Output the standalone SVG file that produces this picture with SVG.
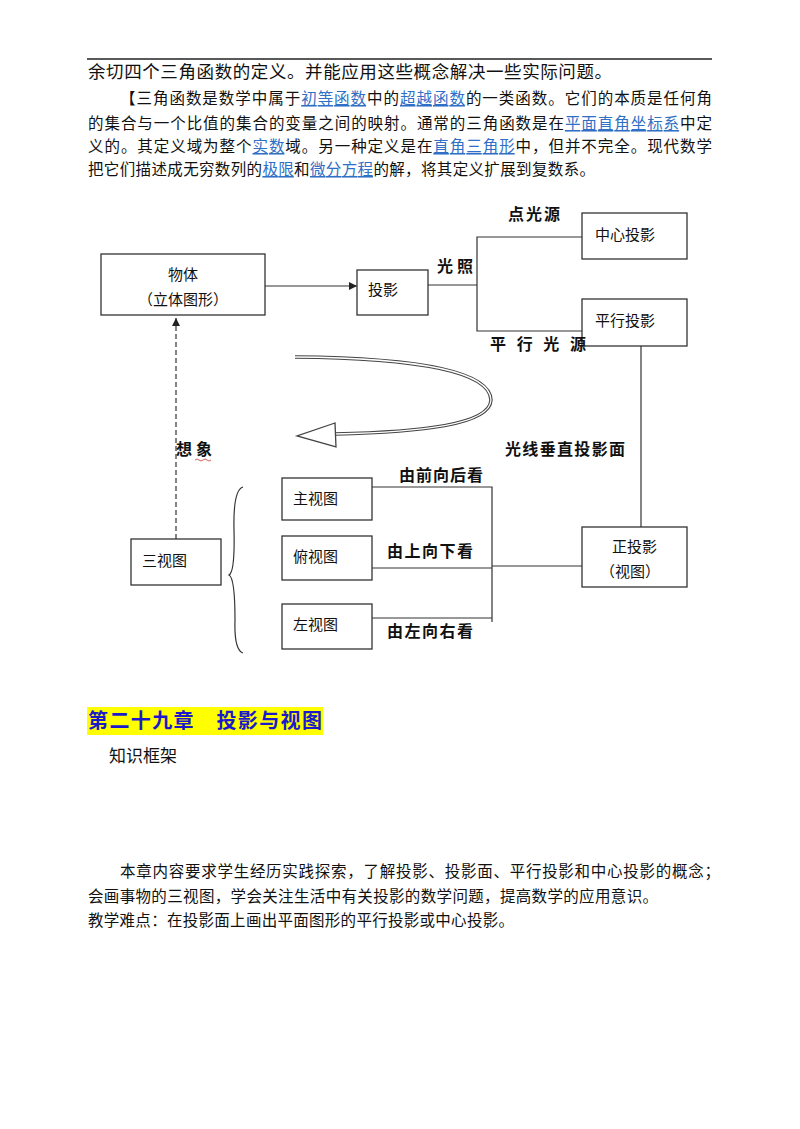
<svg xmlns="http://www.w3.org/2000/svg" width="800" height="1129" viewBox="0 0 800 1129">
<style>
text{font-family:"Liberation Sans","Noto Sans CJK SC",sans-serif;fill:#111}
.p{font-size:15.5px}
.a{fill:#2f6fc6;text-decoration:underline}
.b{fill:#fff;stroke:#333;stroke-width:1.3}
.l{fill:none;stroke:#333;stroke-width:1.2}
.n{font-size:15px}
.k{font-size:16px;font-weight:bold;font-family:"Liberation Serif","Noto Sans CJK SC",serif}
</style>
<defs>
<marker id="ar" viewBox="0 0 10 10" refX="10" refY="5" markerWidth="8" markerHeight="8" orient="auto" markerUnits="userSpaceOnUse"><path d="M0,0L10,5L0,10z" fill="#222"/></marker>
</defs>
<rect width="800" height="1129" fill="#fff"/>
<line x1="87" y1="59" x2="712" y2="59" stroke="#222" stroke-width="1.5"/>
<text x="88" y="78" font-size="17.5" textLength="524" lengthAdjust="spacing">余切四个三角函数的定义。并能应用这些概念解决一些实际问题。</text>
<text class="p" x="120" y="104" textLength="592" lengthAdjust="spacing">【三角函数是数学中属于<tspan class="a">初等函数</tspan>中的<tspan class="a">超越函数</tspan>的一类函数。它们的本质是任何角</text>
<text class="p" x="88" y="129" textLength="624" lengthAdjust="spacing">的集合与一个比值的集合的变量之间的映射。通常的三角函数是在<tspan class="a">平面直角坐标系</tspan>中定</text>
<text class="p" x="88" y="152" textLength="624" lengthAdjust="spacing">义的。其定义域为整个<tspan class="a">实数</tspan>域。另一种定义是在<tspan class="a">直角三角形</tspan>中，但并不完全。现代数学</text>
<text class="p" x="88" y="175" textLength="507" lengthAdjust="spacing">把它们描述成无穷数列的<tspan class="a">极限</tspan>和<tspan class="a">微分方程</tspan>的解，将其定义扩展到复数系。</text>

<g id="connectors">
<line class="l" x1="265" y1="286" x2="357" y2="286" marker-end="url(#ar)"/>
<polyline class="l" points="428,285 477,285"/>
<polyline class="l" points="582,237 477,237 477,331 582,331"/>
<line class="l" x1="641" y1="346" x2="641" y2="527"/>
<line class="l" x1="176" y1="539" x2="176" y2="318" stroke-dasharray="5,3" marker-end="url(#ar)"/>
<polyline class="l" points="372,487 492,487 492,622"/>
<polyline class="l" points="372,568 492,568"/>
<polyline class="l" points="372,618 492,618"/>
<polyline class="l" points="492,566 582,566"/>
<path class="l" d="M243,487 Q233,490 234,530 Q235,572 229,575 Q235,578 235,620 Q234,650 243,653"/>
<path d="M295,357 C420,358 490,372 491,400 C490,425 420,432 335,434" fill="none" stroke="#444" stroke-width="3.5"/>
<path d="M295,357 C420,358 490,372 491,400 C490,425 420,432 335,434" fill="none" stroke="#fff" stroke-width="1.3"/>
<path d="M335,423 L297,436 L336,447 Z" fill="#fff" stroke="#444" stroke-width="1.3"/>
</g>

<g id="n-wuti"><rect class="b" x="101" y="254" width="164" height="61"/><text class="n" x="183" y="280" text-anchor="middle">物体</text><text class="n" x="183" y="305" text-anchor="middle">（立体图形）</text></g>
<g id="n-touying"><rect class="b" x="357" y="270" width="71" height="45"/><text class="n" x="368" y="295">投影</text></g>
<g id="n-zhongxin"><rect class="b" x="582" y="213" width="105" height="46"/><text class="n" x="595" y="240">中心投影</text></g>
<g id="n-pingxing"><rect class="b" x="582" y="299" width="105" height="47"/><text class="n" x="595" y="326">平行投影</text></g>
<g id="n-sanshitu"><rect class="b" x="131" y="539" width="90" height="46"/><text class="n" x="142" y="566">三视图</text></g>
<g id="n-zhu"><rect class="b" x="282" y="478" width="90" height="42"/><text class="n" x="293" y="504">主视图</text></g>
<g id="n-fu"><rect class="b" x="282" y="536" width="90" height="44"/><text class="n" x="293" y="562">俯视图</text></g>
<g id="n-zuo"><rect class="b" x="282" y="604" width="90" height="45"/><text class="n" x="293" y="630">左视图</text></g>
<g id="n-zheng"><rect class="b" x="582" y="527" width="105" height="60"/><text class="n" x="612" y="552">正投影</text><text class="n" x="600" y="577">（视图）</text></g>

<g id="labels">
<text class="k" x="508" y="220" textLength="52" lengthAdjust="spacing">点光源</text>
<text class="k" x="437" y="272" textLength="36" lengthAdjust="spacing">光照</text>
<text class="k" x="490" y="350" textLength="96" lengthAdjust="spacing">平行光源</text>
<text class="k" x="505" y="455" textLength="120" lengthAdjust="spacing">光线垂直投影面</text>
<text class="k" x="176" y="455" textLength="36" lengthAdjust="spacing">想象</text>
<path d="M195,460 q2,-2 4,0 t4,0 t4,0 t4,0" fill="none" stroke="#c33" stroke-width="0.8"/>
<text class="k" x="399" y="481" textLength="84" lengthAdjust="spacing">由前向后看</text>
<text class="k" x="387" y="557" textLength="86" lengthAdjust="spacing">由上向下看</text>
<text class="k" x="387" y="637" textLength="86" lengthAdjust="spacing">由左向右看</text>
</g>

<rect x="87" y="707" width="236" height="28" fill="#ffff00"/>
<text x="88" y="728" font-size="20" font-weight="bold" style="fill:#1a1acc" textLength="234" lengthAdjust="spacing">第二十九章　投影与视图</text>
<text x="109" y="762" font-size="17">知识框架</text>
<text class="p" x="120" y="877" textLength="600" lengthAdjust="spacing">本章内容要求学生经历实践探索，了解投影、投影面、平行投影和中心投影的概念；</text>
<text class="p" x="88" y="902" textLength="570" lengthAdjust="spacing">会画事物的三视图，学会关注生活中有关投影的数学问题，提高数学的应用意识。</text>
<text class="p" x="88" y="926" textLength="426" lengthAdjust="spacing">教学难点：在投影面上画出平面图形的平行投影或中心投影。</text>
</svg>
